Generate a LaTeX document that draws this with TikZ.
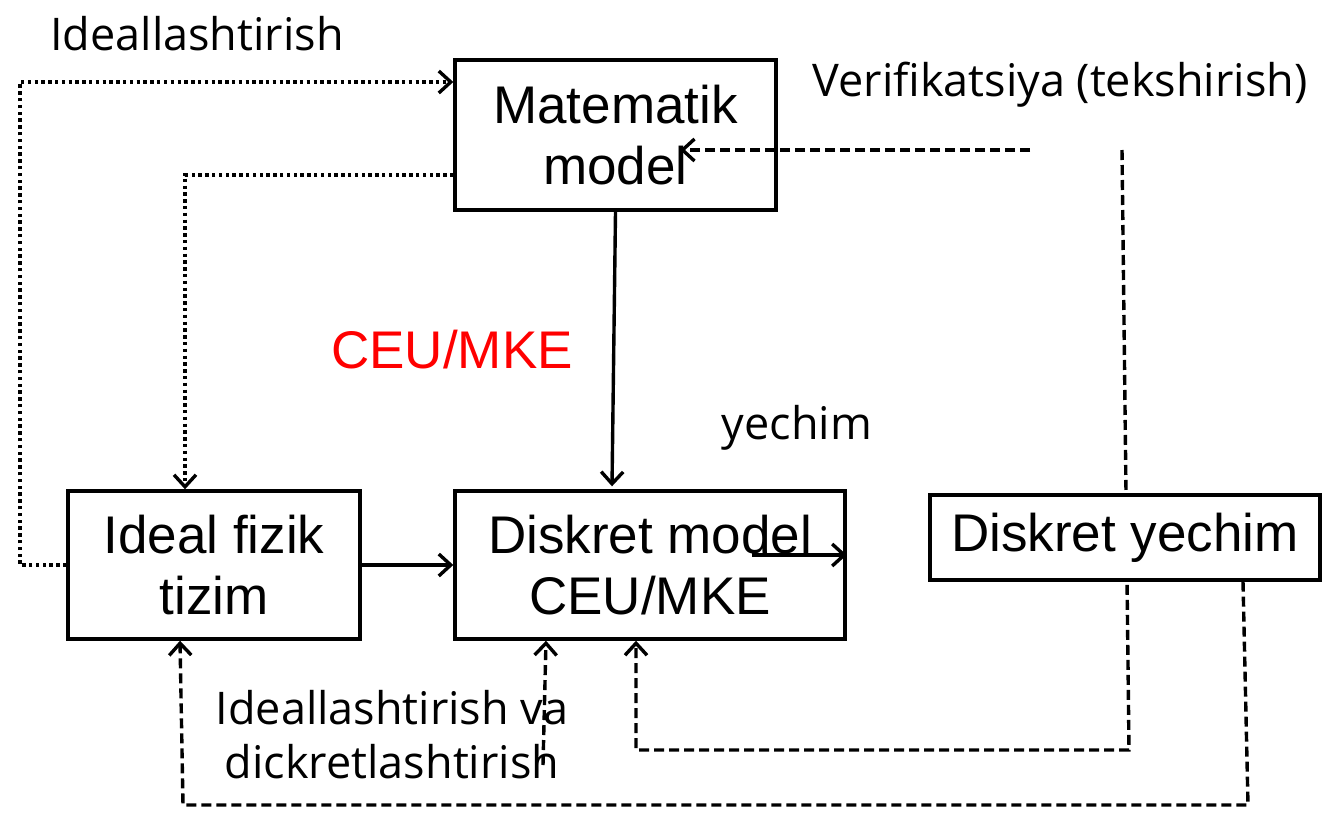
\documentclass[tikz,border=0pt]{standalone}
\usepackage{fontspec}
\setmainfont{Liberation Sans}
\newfontfamily\lblfont{Open Sans}
\usetikzlibrary{arrows.meta,backgrounds}
\begin{document}
\begin{tikzpicture}[x=1pt,y=-1pt,
  box/.style={draw=black,line width=3.4pt,fill=white,inner sep=0pt,align=center,
    font=\fontsize{53}{61}\selectfont},
  lbl/.style={inner sep=0pt,align=center,font=\lblfont\fontsize{45}{54}\selectfont},
  tip/.style={-{Straight Barb[length=12pt,width=22pt,line width=3.4pt]}},
  dotl/.style={line width=3.6pt,dash pattern=on 3.4pt off 3.4pt},
  dashl/.style={line width=3.4pt,dash pattern=on 10pt off 5pt},
  soll/.style={line width=3.4pt}]
\useasboundingbox (0,0) rectangle (1322,814);
\node[box,minimum width=321pt,minimum height=150pt] (mm) at (615.5,135) {Matematik\\model};
\node[box,minimum width=292pt,minimum height=148pt] (ifz) at (214,565) {Ideal fizik\\tizim};
\node[box,minimum width=390pt,minimum height=148pt] (dm) at (650,565) {Diskret model\\CEU/MKE};
\node[box,minimum width=390pt,minimum height=85pt] (dy) at (1125,537.5) {Diskret yechim};

\node[lbl] (l1) at (197,34) {Ideallashtirish};
\node[lbl] (l2) at (1060,85) {Verifikatsiya (tekshirish)};
\node[inner sep=0pt,text=red,font=\fontsize{53}{61}\selectfont] (l3) at (452,350) {CEU/MKE};
\node[lbl] (l4) at (797,428) {yechim};
\node[lbl] (l5) at (392,735) {Ideallashtirish va\\dickretlashtirish};

\coordinate (v1) at (1030,150);
\coordinate (v2) at (680,150);
\coordinate (t1) at (1122,150);
\coordinate (t2) at (1129,750);
\coordinate (b1) at (1248,805);
\coordinate (s1) at (543,765);

\draw[dotl,tip] (ifz.west) -- (20,565) |- ([yshift=53pt]mm.west);
\draw[dotl,tip] ([yshift=-40pt]mm.west) -| ([xshift=-29pt]ifz.north);
\draw[soll,tip] (mm.south) -- ([xshift=-38pt,yshift=3pt]dm.north);
\draw[soll,tip] (ifz.east) -- (dm.west);
\draw[soll,tip] ([xshift=-95pt,yshift=10pt]dm.east) -- ([yshift=10pt]dm.east);
\draw[dashl,tip] (v1) -- (v2);
\begin{scope}[on background layer]
\draw[dashl,tip] (t1) -- (t2) -- (636,750) -- ([xshift=-14pt]dm.south);
\end{scope}
\draw[dashl,tip] ([xshift=118pt]dy.south) -- (b1) -- (183,805) -- ([xshift=-34pt]ifz.south);
\draw[dashl,tip] (s1) -- ([xshift=-104pt]dm.south);
\end{tikzpicture}
\end{document}
